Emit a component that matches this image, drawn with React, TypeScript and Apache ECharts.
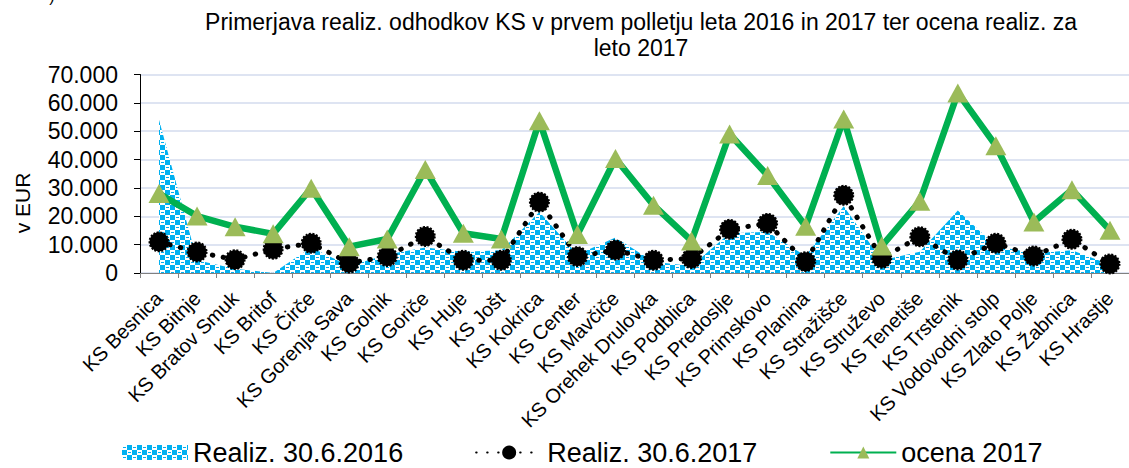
import React, { useEffect, useRef } from 'react';
import * as echarts from 'echarts';

const categories = [
  'KS Besnica', 'KS Bitnje', 'KS Bratov Smuk', 'KS Britof', 'KS Čirče', 'KS Gorenja Sava',
  'KS Golnik', 'KS Goriče', 'KS Huje', 'KS Jošt', 'KS Kokrica', 'KS Center', 'KS Mavčiče',
  'KS Orehek Drulovka', 'KS Podblica', 'KS Predoslje', 'KS Primskovo', 'KS Planina',
  'KS Stražišče', 'KS Struževo', 'KS Tenetiše', 'KS Trstenik', 'KS Vodovodni stolp',
  'KS Zlato Polje', 'KS Žabnica', 'KS Hrastje'
];

const realiz2016 = [
  54000, 4500, 1500, 0, 9000, 2500, 6500, 9000, 7500, 8000, 21500, 6500, 12500,
  4000, 2500, 14000, 14500, 6000, 23500, 4500, 7500, 22000, 9500, 7000, 8000, 3000
];

const realiz2017 = [
  11000, 7400, 4700, 8400, 10500, 3500, 5800, 12900, 4500, 4500, 25000, 5800, 8100,
  4500, 5100, 15400, 17500, 4000, 27400, 5200, 12800, 4600, 10500, 6000, 11900, 3200
];

const ocena2017 = [
  28000, 20100, 16300, 13800, 29900, 9300, 12000, 36500, 14000, 12000, 53700, 13600, 40400,
  23900, 11300, 49000, 34400, 16500, 54300, 9500, 25300, 63500, 44900, 18000, 29400, 15100
];

const seriesNames = ['Realiz. 30.6.2016', 'Realiz. 30.6.2017', 'ocena 2017'];
const titleLines = [
  'Primerjava realiz. odhodkov KS v prvem polletju leta 2016 in 2017 ter ocena realiz. za',
  'leto 2017'
];
const yAxisName = 'v EUR';
const yMax = 70000;
const yInterval = 10000;

const FONT = '"Liberation Sans", Arial, sans-serif';

function makePattern(): HTMLCanvasElement {
  const c = document.createElement('canvas');
  c.width = 10;
  c.height = 10;
  const g = c.getContext('2d')!;
  g.fillStyle = '#00B0F0';
  g.fillRect(0, 0, 10, 10);
  g.fillStyle = '#FFFFFF';
  g.fillRect(0, 0, 5, 5);
  g.fillRect(5, 5, 5, 5);
  g.fillStyle = '#00B0F0';
  g.fillRect(1, 2, 3, 1);
  g.fillRect(6, 7, 3, 1);
  return c;
}

export default function App() {
  const ref = useRef<HTMLDivElement>(null);
  useEffect(() => {
    document.body.style.margin = '0';
    if (!ref.current) return;
    const pattern = { image: makePattern(), repeat: 'repeat' };
    const chart = echarts.init(ref.current, null, { renderer: 'svg' });
    chart.setOption({
      animation: false,
      backgroundColor: '#FFFFFF',
      textStyle: { fontFamily: FONT },
      grid: { left: 140, right: -12, top: 74.5, bottom: 195, containLabel: false },
      graphic: [
        {
          type: 'text', x: 641, y: 21.5,
          style: { text: titleLines[0], textAlign: 'center', textVerticalAlign: 'middle', font: `23px ${FONT}`, fill: '#000' }
        },
        {
          type: 'text', x: 641, y: 48,
          style: { text: titleLines[1], textAlign: 'center', textVerticalAlign: 'middle', font: `23px ${FONT}`, fill: '#000' }
        },
        {
          type: 'text', x: 22, y: 203, rotation: Math.PI / 2,
          style: { text: yAxisName, textAlign: 'center', textVerticalAlign: 'middle', font: `21px ${FONT}`, fill: '#000' }
        },
        {
          type: 'text', x: 52, y: 4,
          style: { text: ')', textAlign: 'center', textVerticalAlign: 'bottom', font: `16px ${FONT}`, fill: '#000' }
        }
      ],
      legend: {
        left: 117,
        top: 434,
        itemWidth: 66,
        itemHeight: 15,
        itemGap: 72,
        textStyle: { fontSize: 27, color: '#000', fontFamily: FONT },
        data: [
          { name: seriesNames[0], icon: 'rect', itemStyle: { color: pattern } },
          { name: seriesNames[1] },
          { name: seriesNames[2] }
        ]
      },
      xAxis: {
        type: 'category',
        data: categories,
        boundaryGap: true,
        axisLine: { show: true, lineStyle: { color: '#808080', width: 1 } },
        axisTick: { show: true, alignWithLabel: false, length: 5, lineStyle: { color: '#808080' } },
        axisLabel: { interval: 0, rotate: 45, fontSize: 20, color: '#000', margin: 22, fontFamily: FONT },
        splitLine: { show: false }
      },
      yAxis: {
        type: 'value',
        min: 0,
        max: yMax,
        interval: yInterval,
        axisLine: { show: true, lineStyle: { color: '#000', width: 1 } },
        axisTick: { show: true, length: 6, lineStyle: { color: '#000' } },
        axisLabel: {
          fontSize: 23, color: '#000', margin: 22, fontFamily: FONT,
          formatter: (v: number) => v.toLocaleString('de-DE')
        },
        splitLine: { show: true, lineStyle: { color: '#D3DBEE', width: 1.5 } }
      },
      series: [
        {
          name: seriesNames[0],
          type: 'line',
          data: realiz2016,
          symbol: 'none',
          color: '#00B0F0',
          lineStyle: { width: 0, color: '#00B0F0' },
          areaStyle: { color: pattern, opacity: 1 },
          z: 1
        },
        {
          name: seriesNames[1],
          type: 'line',
          data: realiz2017,
          symbol: 'circle',
          symbolSize: 19,
          itemStyle: { color: '#000', borderColor: '#000', borderWidth: 2, borderType: [2, 1.5] },
          lineStyle: { color: '#000', width: 5, type: [0.5, 10.5], cap: 'round' },
          z: 2
        },
        {
          name: seriesNames[2],
          type: 'line',
          data: ocena2017,
          symbol: 'triangle',
          symbolSize: [21, 19],
          itemStyle: { color: '#9BBB59' },
          lineStyle: { color: '#00B050', width: 6.5 },
          z: 3
        }
      ]
    });
    return () => chart.dispose();
  }, []);
  return <div ref={ref} style={{ width: 1129, height: 468 }} />;
}
